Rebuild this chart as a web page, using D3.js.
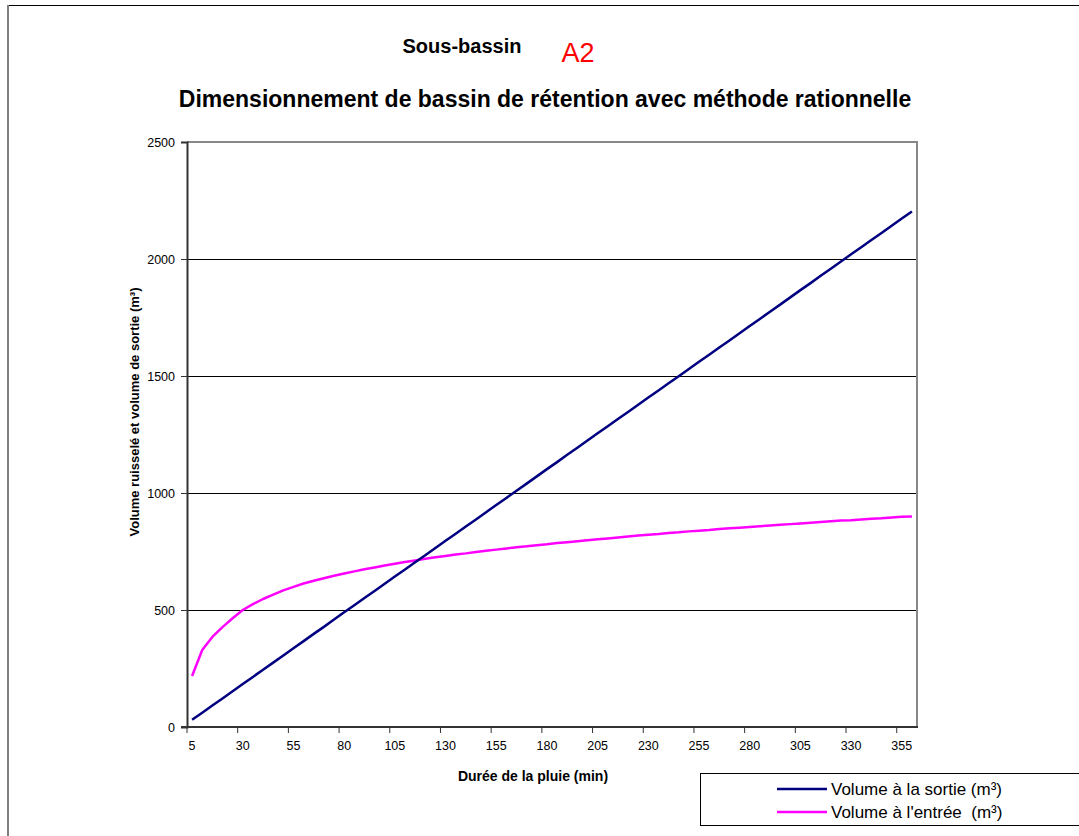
<!DOCTYPE html>
<html>
<head>
<meta charset="utf-8">
<script src="https://cdn.jsdelivr.net/npm/d3@7"></script>
<style>
  html, body { margin: 0; padding: 0; background: #fff; }
  svg { display: block; font-family: "Liberation Sans", Arial, sans-serif; }
</style>
</head>
<body>
<svg id="chart" width="1079" height="836"></svg>
<script>
// Rain duration (min)
const durations = [5,10,15,20,25,30,35,40,45,50,55,60,65,70,75,80,85,90,95,100,
  105,110,115,120,125,130,135,140,145,150,155,160,165,170,175,180,185,190,195,200,
  205,210,215,220,225,230,235,240,245,250,255,260,265,270,275,280,285,290,295,300,
  305,310,315,320,325,330,335,340,345,350,355,360];

// Outflow volume (m³)
const volumeSortie = [31,61,92,122,153,184,214,245,275,306,337,367,398,428,459,490,520,551,581,612,
  643,673,704,734,765,796,826,857,887,918,949,979,1010,1040,1071,1102,1132,1163,1193,1224,
  1255,1285,1316,1346,1377,1408,1438,1469,1499,1530,1561,1591,1622,1652,1683,1714,1744,1775,1805,1836,
  1867,1897,1928,1958,1989,2020,2050,2081,2111,2142,2173,2203];

// Runoff (inflow) volume (m³)
const volumeEntree = [218,329,385,427,465,500,525,547,566,584,599,613,625,636,646,656,665,674,682,690,
  698,705,712,719,725,731,737,742,748,753,758,763,768,772,777,781,786,790,794,798,
  802,806,810,814,818,822,825,829,832,836,839,842,846,849,852,855,858,861,864,867,
  870,873,876,879,882,884,887,890,892,895,898,900];

const yTicks = [0, 500, 1000, 1500, 2000, 2500];
const xTickLabels = [5,30,55,80,105,130,155,180,205,230,255,280,305,330,355];

const svg = d3.select("#chart");

// outer chart frame
svg.append("line").attr("x1", 8).attr("x2", 1079).attr("y1", 5.5).attr("y2", 5.5)
  .attr("stroke", "#000").attr("stroke-width", 1);
svg.append("line").attr("x1", 8).attr("x2", 8).attr("y1", 5).attr("y2", 836)
  .attr("stroke", "#808080").attr("stroke-width", 2);

// titles
svg.append("text").attr("x", 462).attr("y", 53).attr("text-anchor", "middle")
  .attr("font-size", 20).attr("font-weight", "bold").text("Sous-bassin");
svg.append("text").attr("x", 578).attr("y", 62).attr("text-anchor", "middle")
  .attr("font-size", 27).attr("fill", "#ff0000").text("A2");
svg.append("text").attr("x", 545).attr("y", 107).attr("text-anchor", "middle")
  .attr("font-size", 23).attr("font-weight", "bold")
  .text("Dimensionnement de bassin de rétention avec méthode rationnelle");

const plot = { left: 187, right: 917, top: 142, bottom: 727 };

const x = d3.scaleBand().domain(durations).range([plot.left, plot.right]).paddingInner(0).paddingOuter(0);
const y = d3.scaleLinear().domain([0, 2500]).range([plot.bottom, plot.top]);
const cx = d => x(d) + x.bandwidth() / 2;

// gridlines
svg.append("g").selectAll("line").data(yTicks.filter(v => v > 0 && v < 2500)).join("line")
  .attr("x1", plot.left).attr("x2", plot.right)
  .attr("y1", d => Math.round(y(d)) + 0.5).attr("y2", d => Math.round(y(d)) + 0.5)
  .attr("stroke", "#000").attr("stroke-width", 1);

// plot frame: top and right in grey
svg.append("line").attr("x1", plot.left).attr("x2", plot.right + 1)
  .attr("y1", plot.top).attr("y2", plot.top).attr("stroke", "#888").attr("stroke-width", 2);
svg.append("line").attr("x1", plot.right).attr("x2", plot.right)
  .attr("y1", plot.top).attr("y2", plot.bottom).attr("stroke", "#888").attr("stroke-width", 2);

// Y axis
const yAxis = d3.axisLeft(y).tickValues(yTicks).tickFormat(d3.format("d")).tickSize(6).tickPadding(6);
const gy = svg.append("g").attr("transform", `translate(${plot.left},0)`).call(yAxis);
gy.select(".domain").attr("stroke", "#333").attr("stroke-width", 2);
gy.selectAll(".tick line").attr("stroke", "#333").attr("stroke-width", 1);
gy.selectAll("text").attr("font-size", 12.5).attr("fill", "#000")
  .attr("font-family", "'Liberation Sans', Arial, sans-serif");

// X axis: tick marks on category boundaries every 5 categories, labels centred on categories
const gx = svg.append("g");
gx.append("line").attr("x1", plot.left - 6).attr("x2", plot.right + 1)
  .attr("y1", plot.bottom).attr("y2", plot.bottom).attr("stroke", "#333").attr("stroke-width", 2);
const boundaryIdx = d3.range(0, durations.length + 1, 5);
gx.selectAll("line.tk").data(boundaryIdx).join("line").attr("class", "tk")
  .attr("x1", i => plot.left + i * x.bandwidth()).attr("x2", i => plot.left + i * x.bandwidth())
  .attr("y1", plot.bottom).attr("y2", plot.bottom + 6)
  .attr("stroke", "#333").attr("stroke-width", 1);
gx.selectAll("text").data(xTickLabels).join("text")
  .attr("x", d => cx(d)).attr("y", 750).attr("text-anchor", "middle")
  .attr("font-size", 12.5).text(d => d);

// axis titles
svg.append("text").attr("x", 533).attr("y", 781).attr("text-anchor", "middle")
  .attr("font-size", 14).attr("font-weight", "bold").text("Durée de la pluie (min)");
svg.append("text").attr("transform", "translate(139,412) rotate(-90)").attr("text-anchor", "middle")
  .attr("font-size", 13).attr("font-weight", "bold")
  .text("Volume ruisselé et volume de sortie (m³)");

// series
const line = d3.line().x((d, i) => cx(durations[i])).y(d => y(d));
svg.append("path").datum(volumeEntree).attr("d", line)
  .attr("fill", "none").attr("stroke", "#ff00ff").attr("stroke-width", 2.5).attr("stroke-linejoin", "round");
svg.append("path").datum(volumeSortie).attr("d", line)
  .attr("fill", "none").attr("stroke", "#000080").attr("stroke-width", 2.5).attr("stroke-linejoin", "round");

// legend
const legendItems = [
  { label: "Volume à la sortie (m³)", color: "#000080" },
  { label: "Volume à l'entrée  (m³)", color: "#ff00ff" }
];
svg.append("rect").attr("x", 700.5).attr("y", 773.5).attr("width", 400).attr("height", 52)
  .attr("fill", "#fff").attr("stroke", "#000").attr("stroke-width", 1);
const lg = svg.append("g").selectAll("g").data(legendItems).join("g")
  .attr("transform", (d, i) => `translate(0,${789 + i * 23})`);
lg.append("line").attr("x1", 777).attr("x2", 827).attr("y1", 0).attr("y2", 0)
  .attr("stroke", d => d.color).attr("stroke-width", 2.5);
lg.append("text").attr("x", 831).attr("y", 6).attr("font-size", 17)
  .attr("xml:space", "preserve").style("white-space", "pre").text(d => d.label);
</script>
</body>
</html>
